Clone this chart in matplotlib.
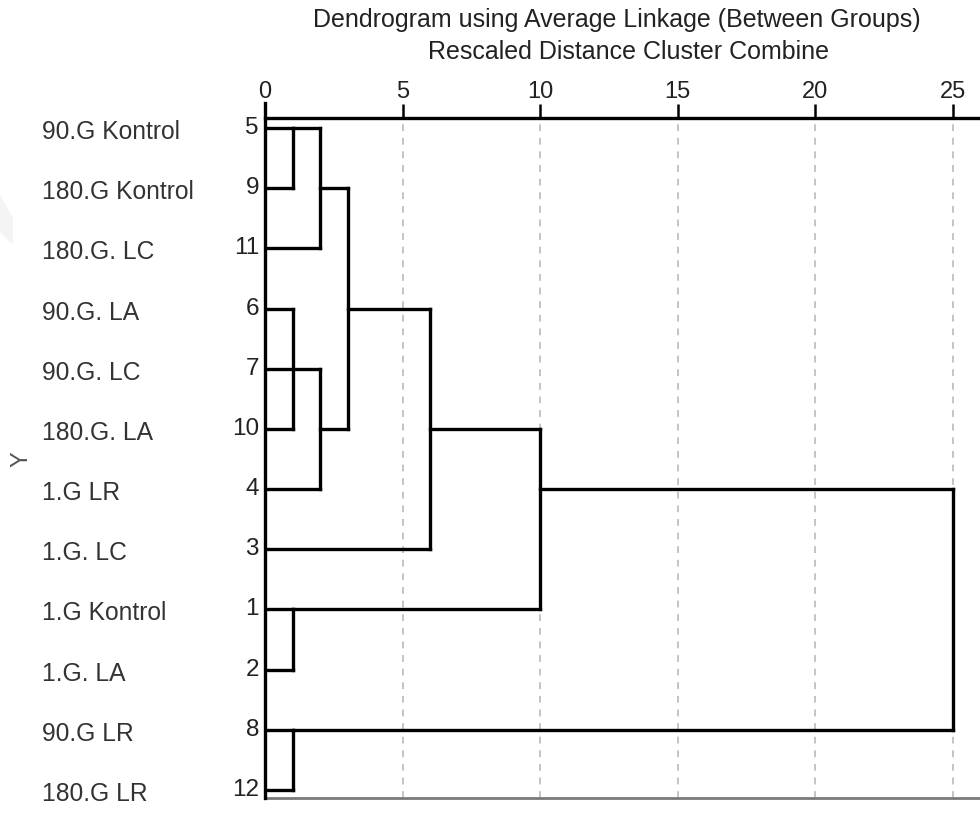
import matplotlib
matplotlib.use("Agg")
import matplotlib.pyplot as plt
from matplotlib.patches import Polygon

plt.rcParams['font.family'] = ['Liberation Sans', 'DejaVu Sans']

# leaves in dendrogram order (top to bottom)
case_ids = [5, 9, 11, 6, 7, 10, 4, 3, 1, 2, 8, 12]
case_labels = ['90.G Kontrol', '180.G Kontrol', '180.G. LC', '90.G. LA', '90.G. LC',
               '180.G. LA', '1.G LR', '1.G. LC', '1.G Kontrol', '1.G. LA',
               '90.G LR', '180.G LR']

# merges: upper row, lower row, where each branch starts, rescaled join distance
merge_upper = [0, 0, 3, 4, 1, 3, 8, 5, 10, 6]
merge_lower = [1, 2, 5, 6, 5, 7, 9, 8, 11, 10]
upper_from = [0, 1, 0, 0, 2, 3, 0, 6, 0, 10]
lower_from = [0, 0, 0, 0, 2, 0, 0, 1, 0, 1]
join_dist = [1, 2, 1, 2, 3, 6, 1, 10, 1, 25]

xticks = [0, 5, 10, 15, 20, 25]

W, H = 980, 814
fig = plt.figure(figsize=(W / 100, H / 100), dpi=100)
ax = fig.add_axes([265 / W, 1 - 798 / H, (980 - 265) / W, (798 - 118) / H])

# dashed guides at 5,10,...
for x in xticks[1:]:
    ax.axvline(x, color='#c4c4c4', lw=1.4, dashes=(3.5, 3.5), zorder=1)

lw = 2.4
for r1, r2, f1, f2, d in zip(merge_upper, merge_lower, upper_from, lower_from, join_dist):
    ax.plot([f1, d], [r1, r1], color='black', lw=lw, solid_capstyle='projecting', zorder=3)
    ax.plot([f2, d], [r2, r2], color='black', lw=lw, solid_capstyle='projecting', zorder=3)
    ax.plot([d, d], [r1, r2], color='black', lw=lw, solid_capstyle='projecting', zorder=3)

ax.set_xlim(0, 25.98)
ax.set_ylim(11.133, -0.166)

ax.xaxis.tick_top()
ax.set_xticks(xticks)
ax.set_xticklabels([str(t) for t in xticks])
ax.tick_params(axis='x', direction='out', length=10, width=1.8, color='black',
               labelsize=17, pad=1, labelcolor='#222222')
ax.set_yticks([])

ax.spines['right'].set_visible(False)
ax.spines['top'].set_linewidth(2.4)
ax.spines['left'].set_linewidth(2.4)
ax.spines['left'].set_bounds(11.133, -0.42)
ax.spines['bottom'].set_color('#7a7a7a')
ax.spines['bottom'].set_linewidth(2)
ax.spines['left'].set_zorder(4)

# case numbers next to the axis and names at the far left
for i, cid in enumerate(case_ids):
    ax.text(-0.22, i, str(cid), ha='right', va='center', fontsize=17.5, color='#222222')

for i, name in enumerate(case_labels):
    y_disp = ax.transData.transform((0, i))[1]
    fig.text(42 / W, (y_disp - 4) / H, name, ha='left', va='center',
             fontsize=17.7, color='#333333')

fig.text(22 / W, 1 - 459 / H, 'Y', rotation=90, ha='center', va='center',
         fontsize=17, color='#555555')

fig.text(617 / W, 1 - 20 / H, 'Dendrogram using Average Linkage (Between Groups)',
         ha='center', va='center', fontsize=18, color='#222222')
fig.text(628 / W, 1 - 52 / H, 'Rescaled Distance Cluster Combine',
         ha='center', va='center', fontsize=18, color='#222222')

# faint mark at the left edge
fig.patches.append(Polygon([(0, 1 - 195 / H), (13 / W, 1 - 218 / H), (13 / W, 1 - 245 / H),
                            (0, 1 - 232 / H)], closed=True, transform=fig.transFigure,
                           facecolor='#f4f4f4', edgecolor='none', zorder=0))

fig.savefig('out.png', dpi=100)
